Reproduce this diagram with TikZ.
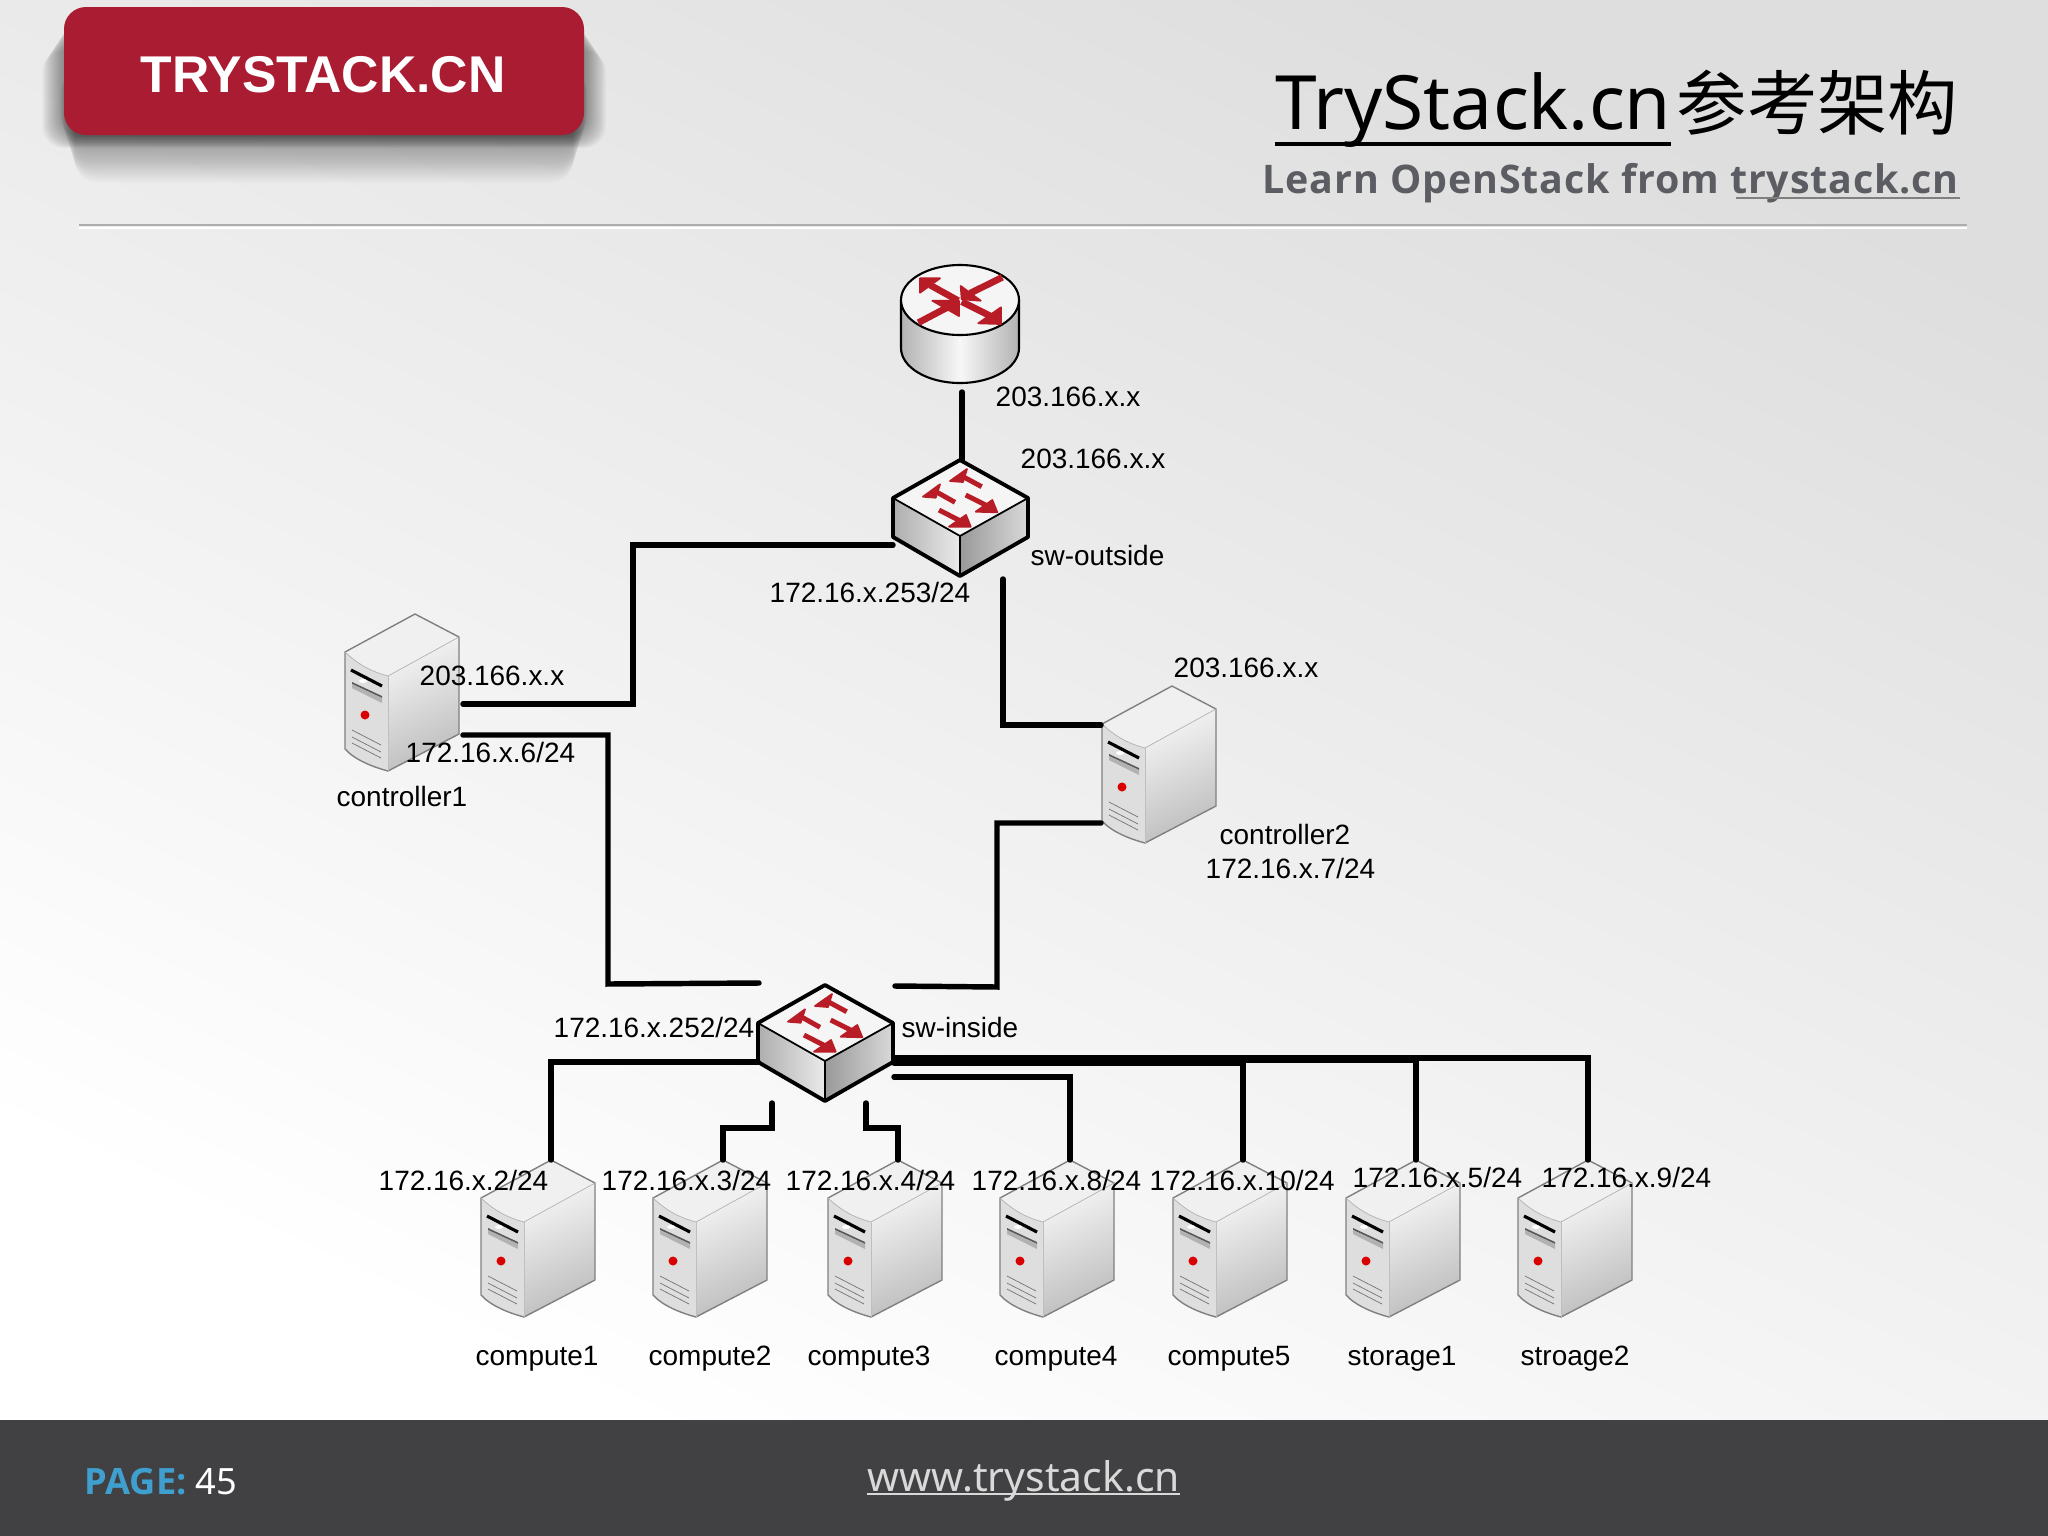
\documentclass[tikz,border=0pt]{standalone}
\usepackage{fontspec}
\setmainfont{Liberation Sans}
\newfontfamily\notofont{Noto Sans}
\newfontfamily\openfont{Open Sans}
\newfontfamily\openwide[LetterSpace=2.2]{Open Sans}
\newfontfamily\cjkfont{Noto Sans CJK SC}
\usetikzlibrary{scopes}

\definecolor{logored}{HTML}{A91C32}
\definecolor{arrowred}{HTML}{B81C26}
\definecolor{footergray}{HTML}{414042}
\definecolor{subgray}{HTML}{5B5D62}
\definecolor{pageblue}{HTML}{3FA0CF}

% tip, two barbs, shaft start, shaft end
\newcommand{\redarrow}[6][1.4pt]{
    \fill[arrowred,draw=arrowred,line width=.5pt,line join=round] #2 -- #3 -- #4 -- cycle;
    \draw[arrowred,line width=#1] #5 -- #6;
}

\tikzset{
    pics/server/.style={code={
        % faces
        \fill[white!94!black] (-70,38) -- (0,0) -- (44,23) -- (-27,62) .. controls (-42,58) and (-55,52) .. cycle;
        \shade[top color=white!96!black,bottom color=white!74!black,shading angle=25]
            (-27,62) -- (44,23) -- (44,120) -- (-27,157) -- cycle;
        \fill[white!87!black] (-70,38) .. controls (-55,52) and (-42,58) .. (-27,62) -- (-27,157)
            .. controls (-42,153) and (-60,146) .. (-70,135) -- cycle;
        \draw[gray,thin,line join=round] (-70,38) -- (0,0) -- (44,23) -- (44,120) -- (-27,157)
            .. controls (-42,153) and (-60,146) .. (-70,135) -- cycle;
        \draw[white!70!black,very thin] (-70,38) .. controls (-55,52) and (-42,58) .. (-27,62) -- (44,23);
        \draw[white!75!black,very thin] (-27,62) -- (-27,157);
        % drive slots
        \draw[black,line width=.9pt] (-64,56) -- (-33,72);
        \fill[white] (-52,67) ellipse [x radius=4,y radius=2];
        \fill[white!35!black] (-63,68) -- (-33,82) -- (-33,84) -- (-63,70) -- cycle;
        \fill[white!70!black] (-63,70) -- (-33,84) -- (-33,89) -- (-63,74) -- cycle;
        \fill[red!85!black] (-50,101) circle [radius=4.5];
        % vents
        \foreach \vy in {116,123,129}
            \draw[white!45!black,very thin] (-63,\vy) -- (-34,\vy+15);
        % ports
        \coordinate (-t) at (0,0);
        \coordinate (-e1) at (48,90);
        \coordinate (-e2) at (48,121);
        \coordinate (-w1) at (-71,39);
        \coordinate (-w2) at (-71,137);
    }},
    pics/switch/.style={code={
        \fill[white!96!black] (-67,38) -- (0,0) -- (68,38) -- (0,76) -- cycle;
        \shade[left color=white!68!black,right color=white!92!black] (-67,38) -- (0,76) -- (0,116) -- (-67,77) -- cycle;
        \shade[left color=white!60!black,right color=white!85!black] (0,76) -- (68,38) -- (68,77) -- (0,116) -- cycle;
        \draw[line width=1.1pt,line join=round] (-67,38) -- (0,0) -- (68,38) -- (68,77) -- (0,116) -- (-67,77) -- cycle;
        \draw[line width=.5pt] (-67,38) -- (0,76) -- (68,38);
        \draw[line width=.5pt] (0,76) -- (0,116);
        \redarrow{(-10,21)}{(7,9)}{(3,22)}{(0,15)}{(21.7,26.7)}
        \redarrow{(-37,36.7)}{(-20,24.3)}{(-24.3,37.7)}{(-27,30)}{(-5,42.3)}
        \redarrow{(37.3,52.3)}{(32.3,40)}{(15.7,51.7)}{(5.7,35)}{(31.7,48)}
        \redarrow{(10.7,66.7)}{(6,55)}{(-11,66.7)}{(-21,50)}{(5,63.3)}
        % ports
        \coordinate (-t) at (2,0);
        \coordinate (-nw) at (-66,-2);
        \coordinate (-ne) at (70,1);
        \coordinate (-w) at (-67,77);
        \coordinate (-w2) at (-67,85);
        \coordinate (-e1) at (69,73);
        \coordinate (-e2) at (69,75);
        \coordinate (-e3) at (69,78);
        \coordinate (-e4) at (69,92);
        \coordinate (-s1) at (-53,118);
        \coordinate (-s2) at (41,118);
        \coordinate (-s3) at (43,119);
    }},
    pics/router/.style={code={
        \shade[left color=white!70!black,right color=white!70!black,middle color=white!97!black]
            (-59,0) -- (-59,48) .. controls (-59,67.3) and (-32.6,83) .. (0,83)
            .. controls (32.6,83) and (59,67.3) .. (59,48) -- (59,0) -- cycle;
        \draw[line width=.6pt] (-59,0) -- (-59,48) .. controls (-59,67.3) and (-32.6,83) .. (0,83)
            .. controls (32.6,83) and (59,67.3) .. (59,48) -- (59,0);
        \fill[white!96!black,draw=black,line width=.6pt] (0,0) ellipse [x radius=59,y radius=35];
        \redarrow[1.9pt]{(-40,-21.7)}{(-20,-21.7)}{(-40,-7.3)}{(-30,-15)}{(-1.7,.7)}
        \redarrow[1.9pt]{(41,24)}{(41,7.3)}{(18.3,23.3)}{(1.7,1.7)}{(31.7,16.7)}
        \redarrow[1.9pt]{(1.7,-.7)}{(.7,-14)}{(20.7,.7)}{(10,-6.7)}{(42.3,-22.7)}
        \redarrow[1.9pt]{(-1,.7)}{(-27.7,.7)}{(-1,16)}{(-41.7,22.7)}{(-10,6)}
        % ports
        \coordinate (-s) at (2,92);
    }},
}

\begin{document}
\begin{tikzpicture}[
    x=0.01cm,y=-0.01cm,
    addr/.style={font=\fontsize{7.95}{10}\selectfont,anchor=base west,inner sep=0pt},
    link/.style={line width=1.55pt,line cap=round},
    title/.style={anchor=base west,inner sep=0pt},
]
\useasboundingbox (0,0) rectangle (2048,1536);

%%%
% Slide background and header
\shade[top color=white!87!black,bottom color=white,shading angle=-25] (0,0) rectangle (2048,1420);
\fill[footergray] (0,1420) rectangle (2048,1536);
\draw[white!68!black,line width=.5pt] (79,225) -- (1967,225);
\draw[white,line width=.5pt] (79,228) -- (1967,228);

% soft shadow of the logo
\foreach \s in {1,...,22}
    \fill[black,opacity=.018,rounded corners=2.2mm] ({64-1*\s},{18+1.5*\s}) rectangle ({584+1*\s},{135+.6*\s});
\foreach \s in {1,...,25}
    \fill[black,opacity=.017,rounded corners=2.2mm] ({60+.6*\s},70) rectangle ({588-.6*\s},{135+1.9*\s});
\fill[logored,rounded corners=2.2mm] (64,7) rectangle (584,135);
\node[title,text=white,font=\bfseries\fontsize{14.7}{18}\selectfont] (logo) at (140,92) {TRYSTACK.CN};

\node[title,font=\notofont\fontsize{21.3}{24}\selectfont] (titlelatin) at (1275,129) {TryStack.cn};
\node[title,font=\cjkfont\fontsize{20}{24}\selectfont] (titlecjk) at (1676,129) {参考架构};
\draw[line width=.9pt] (1275,144) -- (1671,144);
\node[title,text=subgray,font=\openwide\bfseries\fontsize{11.2}{13}\selectfont] (subtitle) at (1262,193) {Learn OpenStack from trystack.cn};
\draw[white!50!black,line width=.6pt] (1736,198) -- (1960,198);

\node[title,font=\openfont\bfseries\fontsize{10.3}{12}\selectfont,text=pageblue] (pagelabel) at (84,1494) {PAGE:};
\node[title,font=\notofont\fontsize{10.3}{12}\selectfont,text=white] (pagenum) at (195,1494) {45};
\node[title,font=\notofont\fontsize{11.6}{14}\selectfont,text=white!85!black] (url) at (867,1491) {www.trystack.cn};
\draw[white!85!black,line width=.6pt] (867,1494) -- (1180,1494);

%%%
% Devices
\pic (router) at (960,300) {router};
\pic (swo) at (960,460) {switch};
\pic (swi) at (825,985) {switch};
\pic (ctl1) at (415,614) {server};
\pic (ctl2) at (1172,686) {server};
\pic (cmp1) at (551,1160) {server};
\pic (cmp2) at (723,1160) {server};
\pic (cmp3) at (898,1160) {server};
\pic (cmp4) at (1070,1160) {server};
\pic (cmp5) at (1243,1160) {server};
\pic (sto1) at (1416,1160) {server};
\pic (sto2) at (1588,1160) {server};

%%%
% Links
\coordinate (bendouter) at (633,545);
\coordinate (bendctl1) at (608,984);
\coordinate (bendctl2) at (997,987);
\coordinate (bendcmp2) at (748,1128);
\coordinate (bendcmp3) at (880,1128);
{[link]
    \draw (router-s) -- (swo-t);
    \draw (swo-w2) -- (bendouter) |- (ctl1-e1);
    \draw (swo-s3) |- (ctl2-w1);
    \draw (ctl1-e2) -| (bendctl1) -- (swi-nw);
    \draw (ctl2-w2) -| (bendctl2) -- (swi-ne);
    \draw (swi-w) -| (cmp1-t);
    \draw (swi-s1) |- (bendcmp2) -| (cmp2-t);
    \draw (swi-s2) |- (bendcmp3) -| (cmp3-t);
    \draw (swi-e4) -| (cmp4-t);
    \draw (swi-e3) -| (cmp5-t);
    \draw (swi-e2) -| (sto1-t);
    \draw (swi-e1) -| (sto2-t);
}

%%%
% Addresses and names
\node[addr] (ipr) at (995,406) {203.166.x.x};
\node[addr] (ipso) at (1020,468) {203.166.x.x};
\node[addr] (nameso) at (1030,565) {sw-outside};
\node[addr] (ipsoi) at (769,602) {172.16.x.253/24};
\node[addr] (ipc1o) at (419,685) {203.166.x.x};
\node[addr] (ipc1i) at (405,762) {172.16.x.6/24};
\node[addr] (namec1) at (336,806) {controller1};
\node[addr] (ipc2o) at (1173,677) {203.166.x.x};
\node[addr] (namec2) at (1219,844) {controller2};
\node[addr] (ipc2i) at (1205,878) {172.16.x.7/24};
\node[addr] (ipsi) at (553,1037) {172.16.x.252/24};
\node[addr] (namesi) at (901,1037) {sw-inside};
\node[addr] (ipn1) at (378,1190) {172.16.x.2/24};
\node[addr] (ipn2) at (601,1190) {172.16.x.3/24};
\node[addr] (ipn3) at (785,1190) {172.16.x.4/24};
\node[addr] (ipn4) at (971,1190) {172.16.x.8/24};
\node[addr] (ipn5) at (1149,1190) {172.16.x.10/24};
\node[addr] (ipn6) at (1352,1187) {172.16.x.5/24};
\node[addr] (ipn7) at (1541,1187) {172.16.x.9/24};
\node[addr] (namen1) at (475,1365) {compute1};
\node[addr] (namen2) at (648,1365) {compute2};
\node[addr] (namen3) at (807,1365) {compute3};
\node[addr] (namen4) at (994,1365) {compute4};
\node[addr] (namen5) at (1167,1365) {compute5};
\node[addr] (namen6) at (1347,1365) {storage1};
\node[addr] (namen7) at (1520,1365) {stroage2};
\end{tikzpicture}
\end{document}
